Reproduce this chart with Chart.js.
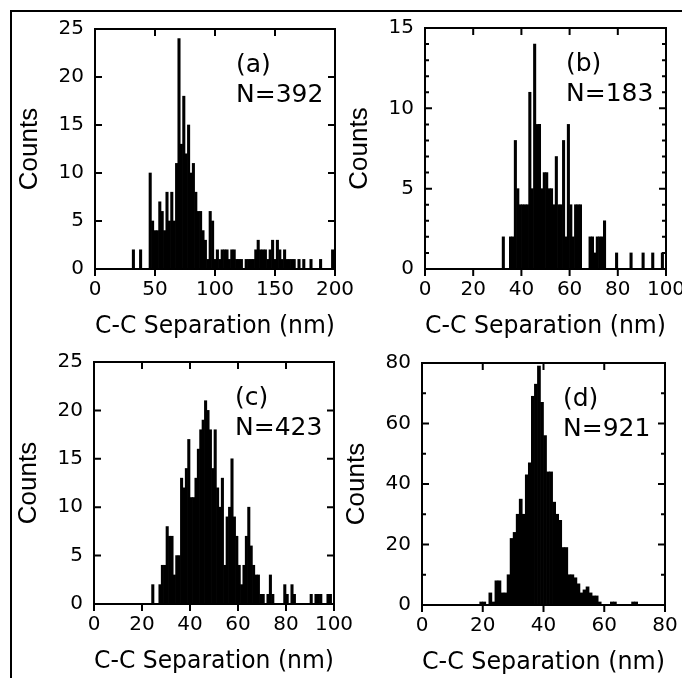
<!DOCTYPE html>
<html>
<head>
<meta charset="utf-8">
<script src="https://cdn.jsdelivr.net/npm/chart.js@4.4.1/dist/chart.umd.min.js"></script>
<style>
  html, body { margin: 0; padding: 0; background: #fff; }
  #page { position: relative; width: 682px; height: 678px; overflow: hidden; }
  #frame { position: absolute; left: 10px; top: 10px; width: 700px; height: 700px;
           border-left: 2px solid #000; border-top: 2px solid #000; box-sizing: border-box; }
  canvas { position: absolute; left: 0; top: 0; }
</style>
</head>
<body>
<div id="page">
  <div id="frame"></div>
  <canvas id="chartA" width="720" height="700"></canvas>
  <canvas id="chartB" width="720" height="700"></canvas>
  <canvas id="chartC" width="720" height="700"></canvas>
  <canvas id="chartD" width="720" height="700"></canvas>
</div>
<script>
// Histogram counts. Each list starts at binStart (nm).
const binStartA = 31, binWidthA = 2;
const countsA = [2, 0, 0, 2, 0, 0, 0, 10, 5, 4, 4, 7, 6, 4, 8, 5, 8, 5, 11, 24,
  13, 18, 12, 15, 10, 11, 8, 6, 6, 4, 3, 1, 6, 5, 1, 2, 1, 2, 2, 2,
  1, 2, 2, 1, 1, 1, 0, 1, 1, 1, 1, 2, 3, 2, 2, 2, 1, 2, 3, 1,
  3, 2, 1, 2, 1, 1, 1, 1, 0, 1, 0, 1, 0, 0, 1, 0, 0, 0, 1, 0,
  0, 0, 0, 2];

const binStartB = 32, binWidthB = 1;
const countsB = [2, 0, 0, 2, 2, 8, 5, 4, 4, 4, 4, 11, 5, 14, 9, 9, 5, 6, 6, 5,
  5, 4, 7, 4, 4, 8, 2, 9, 4, 2, 4, 4, 4, 0, 0, 0, 2, 2, 1, 2,
  2, 2, 3, 0, 0, 0, 0, 1, 0, 0, 0, 0, 0, 1, 0, 0, 0, 0, 1, 0,
  0, 0, 1, 0, 0, 0, 1, 0];

const binStartC = 24, binWidthC = 1;
const countsC = [2, 0, 0, 2, 4, 4, 8, 7, 7, 3, 5, 5, 13, 12, 14, 17, 11, 11, 13, 16,
  18, 19, 21, 20, 18, 14, 18, 12, 10, 13, 4, 9, 10, 15, 9, 7, 4, 2, 4, 7,
  10, 6, 4, 3, 3, 1, 1, 0, 1, 3, 1, 0, 0, 0, 0, 2, 1, 0, 2, 1,
  0, 0, 0, 0, 0, 0, 1, 0, 1, 1, 1, 0, 0, 1, 1, 0];

const binStartD = 19, binWidthD = 1;
const countsD = [1, 1, 0, 4, 1, 8, 8, 4, 4, 10, 22, 24, 30, 35, 30, 43, 47, 69, 73, 79,
  67, 56, 44, 44, 34, 30, 28, 19, 19, 10, 10, 9, 7, 4, 5, 6, 4, 3, 3, 1,
  0, 0, 0, 1, 1, 0, 0, 0, 0, 0, 1, 1];

const xTicksA = [0, 50, 100, 150, 200];
const yTicksA = [0, 5, 10, 15, 20, 25];
const xTicksB = [0, 20, 40, 60, 80, 100];
const yTicksB = [0, 5, 10, 15];
const xTicksC = [0, 20, 40, 60, 80, 100];
const yTicksC = [0, 5, 10, 15, 20, 25];
const xTicksD = [0, 20, 40, 60, 80];
const yTicksD = [0, 20, 40, 60, 80];

// the figure's lettering is wide, DejaVu Sans matches its proportions
const FONT = '"DejaVu Sans", "Liberation Sans", Arial, sans-serif';
const NARROW = '"Liberation Sans", Arial, sans-serif';
Chart.defaults.font.family = FONT;
Chart.defaults.color = '#000';

// frame, inward ticks (outward on the bottom axis) and the panel notes
const frameTicks = {
  id: 'frameTicks',
  afterDraw(chart, args, opts) {
    const { ctx, chartArea: a, scales: { x, y } } = chart;
    ctx.save();
    ctx.strokeStyle = '#000';
    ctx.lineWidth = 2;
    ctx.strokeRect(a.left, a.top, a.right - a.left, a.bottom - a.top);
    ctx.beginPath();
    x.ticks.forEach(t => {
      const px = x.getPixelForValue(t.value);
      ctx.moveTo(px, a.bottom);
      ctx.lineTo(px, a.bottom + 7);
      ctx.moveTo(px, a.top);
      ctx.lineTo(px, a.top + 7);
    });
    const yTick = (v, len) => {
      const py = y.getPixelForValue(v);
      ctx.moveTo(a.left, py);
      ctx.lineTo(a.left + len, py);
      ctx.moveTo(a.right, py);
      ctx.lineTo(a.right - len, py);
    };
    y.ticks.forEach(t => yTick(t.value, 7));
    if (opts.yMinor) {
      for (let v = y.min; v <= y.max; v += opts.yMinor) yTick(v, 4);
    }
    ctx.stroke();
    ctx.fillStyle = '#000';
    ctx.font = '25px ' + FONT;
    ctx.textBaseline = 'alphabetic';
    ctx.textAlign = 'left';
    ctx.fillText(opts.tag, a.left + 141, a.top + 43);
    ctx.fillText(opts.note, a.left + 141, a.top + 73);
    ctx.restore();
  }
};

function makePanel(id, area, binStart, binWidth, counts, xTicks, yTicks, yMinor, tag, note) {
  const points = counts.map((c, i) => ({ x: binStart + binWidth * (i + 0.5), y: c }));
  return new Chart(document.getElementById(id), {
    type: 'bar',
    data: {
      datasets: [{
        data: points,
        backgroundColor: '#000',
        borderWidth: 0,
        barPercentage: 1,
        categoryPercentage: 1
      }]
    },
    options: {
      responsive: false,
      animation: false,
      events: [],
      layout: {
        padding: { left: area.left - 81, top: area.top, right: 720 - area.right, bottom: 700 - area.bottom - 72 }
      },
      plugins: {
        legend: { display: false },
        tooltip: { enabled: false },
        frameTicks: { tag, note, yMinor }
      },
      scales: {
        x: {
          type: 'linear',
          offset: false,
          min: xTicks[0],
          max: xTicks[xTicks.length - 1],
          grid: { display: false, drawTicks: false },
          border: { display: false },
          afterBuildTicks: s => { s.ticks = xTicks.map(v => ({ value: v })); },
          ticks: { font: { size: 20 }, padding: 9, maxRotation: 0, autoSkip: false },
          title: { display: true, text: 'C-C Separation (nm)', font: { size: 24 }, padding: 0 },
          afterFit: s => { s.height = 72; }
        },
        y: {
          min: yTicks[0],
          max: yTicks[yTicks.length - 1],
          grid: { display: false, drawTicks: false },
          border: { display: false },
          afterBuildTicks: s => { s.ticks = yTicks.map(v => ({ value: v })); },
          ticks: { font: { size: 20 }, padding: 11 },
          title: { display: true, text: 'Counts', font: { family: NARROW, size: 26 }, padding: 0 },
          afterFit: s => { s.width = 81; }
        }
      }
    },
    plugins: [frameTicks]
  });
}

makePanel('chartA', { left: 95, top: 29, right: 335, bottom: 269 }, binStartA, binWidthA, countsA, xTicksA, yTicksA, 0, '(a)', 'N=392');
makePanel('chartB', { left: 425, top: 28, right: 666, bottom: 269 }, binStartB, binWidthB, countsB, xTicksB, yTicksB, 1, '(b)', 'N=183');
makePanel('chartC', { left: 94, top: 362, right: 334, bottom: 604 }, binStartC, binWidthC, countsC, xTicksC, yTicksC, 0, '(c)', 'N=423');
makePanel('chartD', { left: 422, top: 363, right: 665, bottom: 605 }, binStartD, binWidthD, countsD, xTicksD, yTicksD, 10, '(d)', 'N=921');
</script>
</body>
</html>
